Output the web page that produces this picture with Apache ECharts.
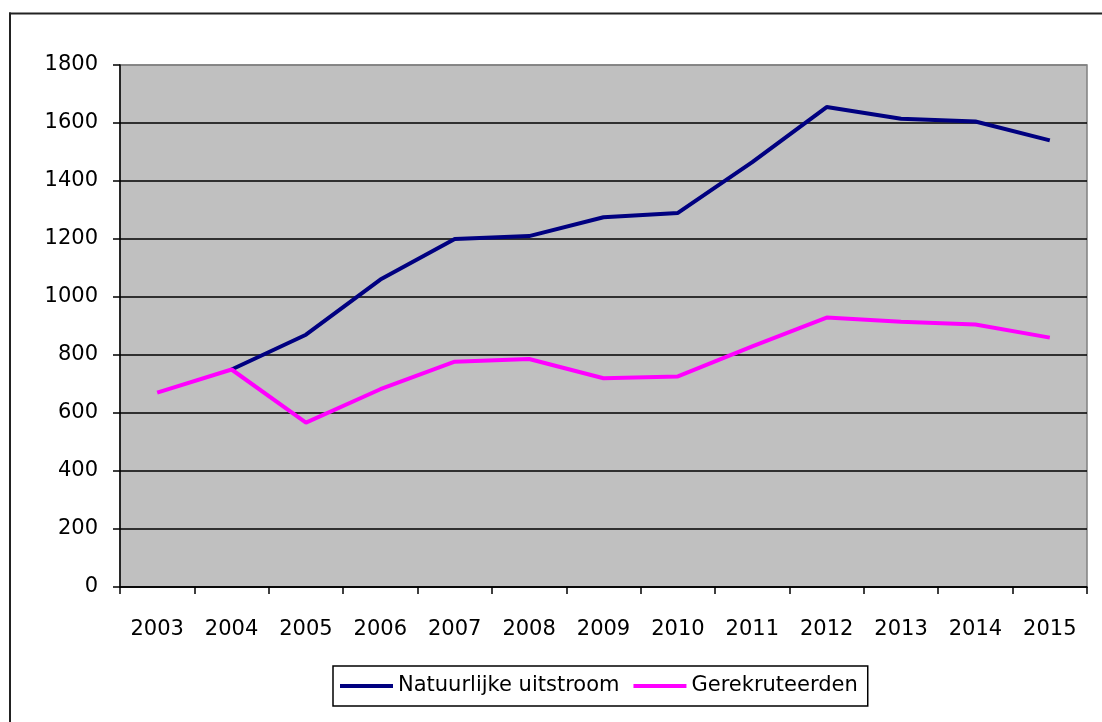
<!DOCTYPE html>
<html>
<head>
<meta charset="utf-8">
<script src="https://cdn.jsdelivr.net/npm/echarts@6/dist/echarts.min.js"></script>
<style>
    html, body { margin: 0; padding: 0; background: #fff; }
    #chart { width: 1102px; height: 722px; }
</style>
</head>
<body>
<div id="chart"></div>
<script>
var years = ['2003', '2004', '2005', '2006', '2007', '2008', '2009', '2010', '2011', '2012', '2013', '2014', '2015'];
var natuurlijkeUitstroom = [null, 750, 870, 1060, 1200, 1210, 1275, 1290, 1465, 1655, 1615, 1605, 1540];
var gerekruteerden = [670, 750, 567, 682, 777, 786, 720, 726, 830, 929, 915, 905, 860];
var yTicks = { min: 0, max: 1800, interval: 200 };

var font = 'DejaVu Sans';

// top gridline is the grey plot border, the rest black
var splitColors = [];
for (var i = 0; i < 9; i++) {
    splitColors.push('#000');
}
splitColors.push('#808080');

var chart = echarts.init(document.getElementById('chart'));

var option = {
    animation: false,
    backgroundColor: '#fff',
    graphic: [{
        type: 'line',
        shape: { x1: 9, y1: 13.5, x2: 1102, y2: 13.5 },
        style: { stroke: '#222', lineWidth: 2 },
        silent: true
    }, {
        type: 'line',
        shape: { x1: 10, y1: 12.5, x2: 10, y2: 722 },
        style: { stroke: '#222', lineWidth: 2 },
        silent: true
    }],
    grid: {
        left: 120,
        top: 65,
        right: 15,
        bottom: 135,
        show: true,
        backgroundColor: '#C0C0C0',
        borderColor: '#808080',
        borderWidth: 1.5
    },
    legend: {
        left: 333,
        top: 666,
        padding: [8, 10, 8, 7],
        itemGap: 14,
        itemWidth: 53,
        itemHeight: 4,
        icon: 'rect',
        borderColor: '#000',
        borderWidth: 1.5,
        textStyle: { fontFamily: font, fontSize: 21, color: '#000', lineHeight: 24 },
        data: ['Natuurlijke uitstroom', 'Gerekruteerden']
    },
    xAxis: {
        type: 'category',
        data: years,
        boundaryGap: true,
        axisLine: { lineStyle: { color: '#000', width: 1.5 } },
        axisTick: { show: true, interval: 0, length: 7, lineStyle: { color: '#000', width: 1.5 } },
        axisLabel: { interval: 0, margin: 32, fontFamily: font, fontSize: 21, color: '#000' },
        splitLine: { show: false }
    },
    yAxis: {
        type: 'value',
        min: yTicks.min,
        max: yTicks.max,
        interval: yTicks.interval,
        axisLine: { show: true, lineStyle: { color: '#000', width: 1.5 } },
        axisTick: { show: true, length: 7, lineStyle: { color: '#000', width: 1.5 } },
        axisLabel: {
            margin: 22,
            fontFamily: font,
            fontSize: 21,
            color: '#000',
            formatter: function (v) { return String(v); }
        },
        splitLine: { show: true, lineStyle: { color: splitColors, width: 1.5 } }
    },
    series: [{
        name: 'Natuurlijke uitstroom',
        type: 'line',
        data: natuurlijkeUitstroom,
        showSymbol: false,
        symbol: 'none',
        color: '#000080',
        lineStyle: { color: '#000080', width: 4 }
    }, {
        name: 'Gerekruteerden',
        type: 'line',
        data: gerekruteerden,
        showSymbol: false,
        symbol: 'none',
        color: '#FF00FF',
        lineStyle: { color: '#FF00FF', width: 4 }
    }]
};

chart.setOption(option);
</script>
</body>
</html>
